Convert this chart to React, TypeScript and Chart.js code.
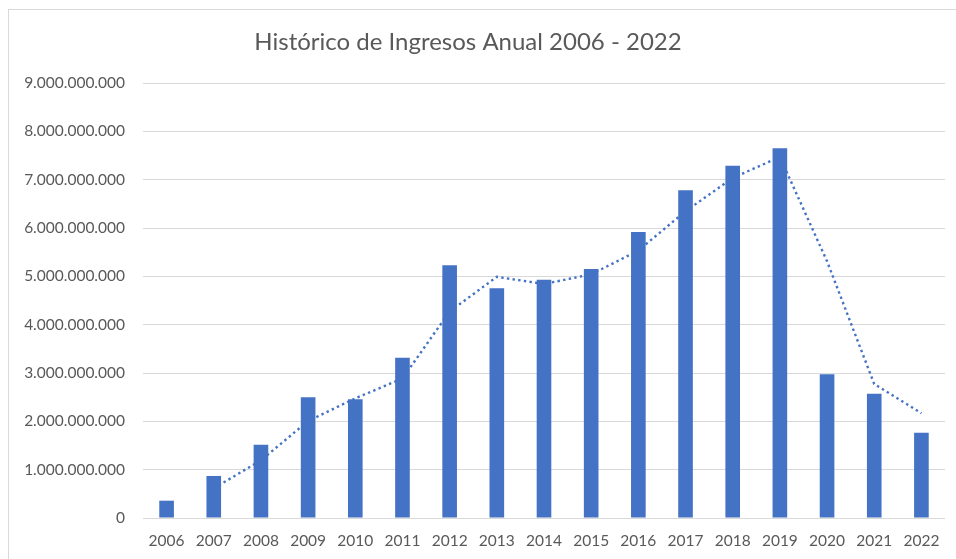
import React, { useEffect, useRef } from "react";
import { Chart, registerables } from "chart.js";

Chart.register(...registerables);

const TITLE = "Histórico de Ingresos Anual 2006 - 2022";
const YEARS = ["2006", "2007", "2008", "2009", "2010", "2011", "2012", "2013", "2014", "2015", "2016", "2017", "2018", "2019", "2020", "2021", "2022"];
const INGRESOS = [358e6, 870e6, 1517e6, 2497e6, 2456e6, 3317e6, 5228e6, 4752e6, 4931e6, 5152e6, 5915e6, 6780e6, 7290e6, 7650e6, 2973e6, 2572e6, 1765e6];
// dotted trendline (2-period moving average)
const TENDENCIA = [null, 614e6, 1193e6, 2007e6, 2476e6, 2886e6, 4272e6, 4990e6, 4842e6, 5041e6, 5534e6, 6347e6, 7035e6, 7470e6, 5311e6, 2772e6, 2168e6];
const Y_MAX = 9e9;
const Y_STEP = 1e9;

const FONT = "Lato, 'Open Sans', sans-serif";
const TEXT = "#595959";
const BLUE = "#4472C4";
const GRID = "#d9d9d9";

const fmt = (v: number) => Math.round(v).toString().replace(/\B(?=(\d{3})+(?!\d))/g, ".");

const titlePlugin = {
  id: "excelTitle",
  afterDraw(chart: any) {
    const ctx = chart.ctx;
    ctx.save();
    ctx.font = `400 24px ${FONT}`;
    ctx.fillStyle = TEXT;
    ctx.textAlign = "center";
    ctx.textBaseline = "alphabetic";
    ctx.fillText(TITLE, 459, 40);
    ctx.restore();
  },
};

export default function App() {
  const ref = useRef<HTMLCanvasElement | null>(null);
  useEffect(() => {
    if (!ref.current) return;
    const chart = new Chart(ref.current, {
      type: "bar",
      data: {
        labels: YEARS,
        datasets: [
          {
            type: "line",
            label: "Tendencia",
            data: TENDENCIA as any,
            borderColor: BLUE,
            borderWidth: 2.4,
            borderDash: [2.4, 3.3],
            pointRadius: 0,
            tension: 0,
            fill: false,
            spanGaps: false,
            order: 0,
          } as any,
          {
            type: "bar",
            label: "Ingresos",
            data: INGRESOS,
            backgroundColor: BLUE,
            borderWidth: 0,
            categoryPercentage: 1,
            barPercentage: 0.31,
            order: 1,
          } as any,
        ],
      },
      options: {
        animation: false,
        responsive: false,
        maintainAspectRatio: false,
        layout: { padding: { top: 73, right: 11, left: 0, bottom: 0 } },
        plugins: {
          legend: { display: false },
          title: { display: false },
          tooltip: { enabled: false },
        },
        scales: {
          x: {
            grid: { display: false, drawTicks: false },
            border: { display: false },
            ticks: {
              color: TEXT,
              font: { family: FONT, size: 15.5 },
              padding: 14,
              maxRotation: 0,
              autoSkip: false,
            },
            afterFit: (s: any) => {
              s.height = 41;
            },
          },
          y: {
            min: 0,
            max: Y_MAX,
            grid: { color: GRID, lineWidth: 1, drawTicks: false },
            border: { display: false },
            ticks: {
              stepSize: Y_STEP,
              color: TEXT,
              font: { family: FONT, size: 15.5 },
              padding: 18,
              callback: (v: any) => fmt(Number(v)),
            },
            afterFit: (s: any) => {
              s.width = 134;
            },
          },
        },
      },
      plugins: [titlePlugin],
    });
    return () => chart.destroy();
  }, []);

  return (
    <div
      style={{
        position: "absolute",
        left: 8,
        top: 9,
        width: 948,
        height: 550,
        boxSizing: "border-box",
        borderTop: `1px solid ${GRID}`,
        borderLeft: `1px solid ${GRID}`,
        overflow: "hidden",
        background: "#fff",
      }}
    >
      <canvas ref={ref} width={947} height={549} style={{ display: "block", width: 947, height: 549 }} />
    </div>
  );
}
